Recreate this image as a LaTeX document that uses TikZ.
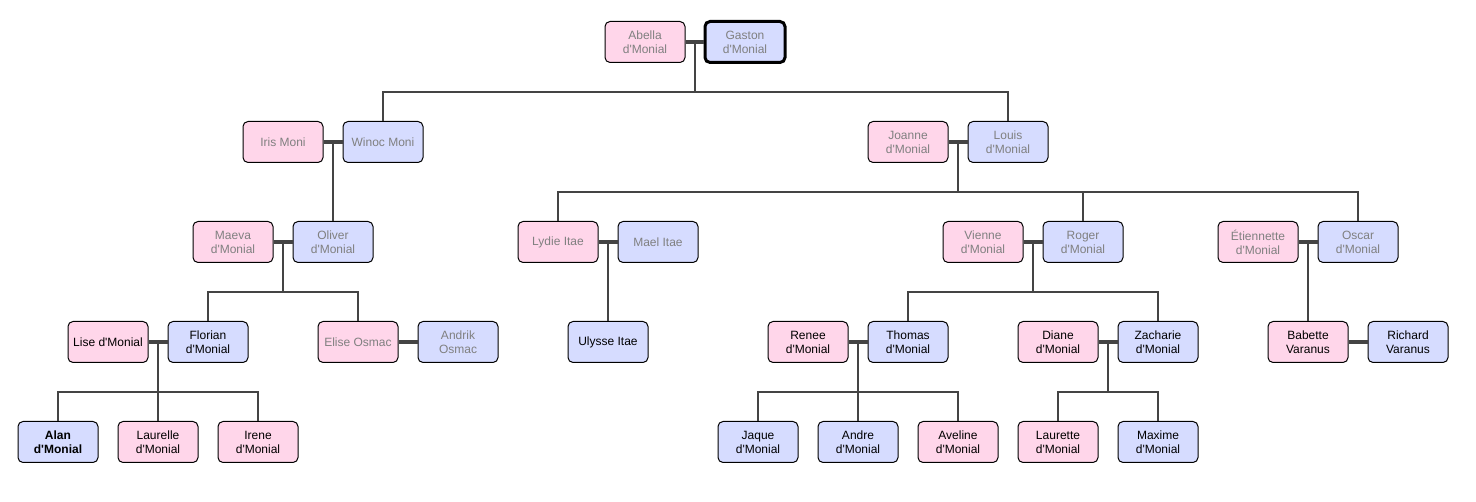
\documentclass[tikz,border=0pt]{standalone}
\usepackage{fontspec}
\setmainfont{Liberation Sans}[Ligatures=TeXOff]
\begin{document}
\begin{tikzpicture}[x=1pt, y=-1pt,
  person/.style={draw=black, line width=1pt, rounded corners=5pt,
    minimum width=80pt, minimum height=41pt, inner sep=0pt, align=center,
    font=\fontsize{12}{14}\selectfont},
  fem/.style={person, fill=pinkfill},
  masc/.style={person, fill=bluefill},
  past/.style={text=oldgray},
  lead/.style={font=\fontsize{12}{14}\selectfont\bfseries},
  couple/.style={draw=linegray, line width=4pt},
  link/.style={draw=linegray, line width=2pt}]
  \definecolor{pinkfill}{RGB}{255,214,234}
  \definecolor{bluefill}{RGB}{214,220,255}
  \definecolor{oldgray}{RGB}{128,128,128}
  \definecolor{linegray}{RGB}{68,68,68}
  \useasboundingbox (0,0) rectangle (1476,502);
  % first generation
  \node[fem,past] (abella) at (645,42) {Abella\\d'Monial};
  \node[masc,past,line width=3pt] (gaston) at (745,42) {Gaston\\d'Monial};
  % second generation
  \node[fem,past] (iris) at (283,142) {Iris Moni};
  \node[masc,past] (winoc) at (383,142) {Winoc Moni};
  \node[fem,past] (joanne) at (908,142) {Joanne\\d'Monial};
  \node[masc,past] (louis) at (1008,142) {Louis\\d'Monial};
  % third generation
  \node[fem,past] (maeva) at (233,242) {Maeva\\d'Monial};
  \node[masc,past] (oliver) at (333,242) {Oliver\\d'Monial};
  \node[fem,past] (lydie) at (558,242) {Lydie Itae};
  \node[masc,past] (mael) at (658,242) {Mael Itae};
  \node[fem,past] (vienne) at (983,242) {Vienne\\d'Monial};
  \node[masc,past] (roger) at (1083,242) {Roger\\d'Monial};
  \node[fem,past] (etiennette) at (1258,242) {Étiennette\\d'Monial};
  \node[masc,past] (oscar) at (1358,242) {Oscar\\d'Monial};
  % fourth generation
  \node[fem] (lise) at (108,342) {Lise d'Monial};
  \node[masc] (florian) at (208,342) {Florian\\d'Monial};
  \node[fem,past] (elise) at (358,342) {Elise Osmac};
  \node[masc,past] (andrik) at (458,342) {Andrik\\Osmac};
  \node[masc] (ulysse) at (608,342) {Ulysse Itae};
  \node[fem] (renee) at (808,342) {Renee\\d'Monial};
  \node[masc] (thomas) at (908,342) {Thomas\\d'Monial};
  \node[fem] (diane) at (1058,342) {Diane\\d'Monial};
  \node[masc] (zacharie) at (1158,342) {Zacharie\\d'Monial};
  \node[fem] (babette) at (1308,342) {Babette\\Varanus};
  \node[masc] (richard) at (1408,342) {Richard\\Varanus};
  % fifth generation
  \node[masc,lead] (alan) at (58,442) {Alan\\d'Monial};
  \node[fem] (laurelle) at (158,442) {Laurelle\\d'Monial};
  \node[fem] (irene) at (258,442) {Irene\\d'Monial};
  \node[masc] (jaque) at (758,442) {Jaque\\d'Monial};
  \node[masc] (andre) at (858,442) {Andre\\d'Monial};
  \node[fem] (aveline) at (958,442) {Aveline\\d'Monial};
  \node[fem] (laurette) at (1058,442) {Laurette\\d'Monial};
  \node[masc] (maxime) at (1158,442) {Maxime\\d'Monial};
  % couples
  \foreach \a/\b in {abella/gaston, iris/winoc, joanne/louis, maeva/oliver,
    lydie/mael, vienne/roger, etiennette/oscar, lise/florian, elise/andrik,
    renee/thomas, diane/zacharie, babette/richard}
    \draw[couple] (\a) -- (\b) coordinate[midway] (\a-\b);
  % children
  \foreach \c in {winoc,louis}
    \draw[link] (abella-gaston) -- ++(0,50) -| (\c.north);
  \draw[link] (iris-winoc) -- (oliver.north);
  \foreach \c in {lydie,roger,oscar}
    \draw[link] (joanne-louis) -- ++(0,50) -| (\c.north);
  \foreach \c in {florian,elise}
    \draw[link] (maeva-oliver) -- ++(0,50) -| (\c.north);
  \draw[link] (lydie-mael) -- (ulysse.north);
  \foreach \c in {thomas,zacharie}
    \draw[link] (vienne-roger) -- ++(0,50) -| (\c.north);
  \draw[link] (etiennette-oscar) -- (babette.north);
  \foreach \c in {alan,laurelle,irene}
    \draw[link] (lise-florian) -- ++(0,50) -| (\c.north);
  \foreach \c in {jaque,andre,aveline}
    \draw[link] (renee-thomas) -- ++(0,50) -| (\c.north);
  \foreach \c in {laurette,maxime}
    \draw[link] (diane-zacharie) -- ++(0,50) -| (\c.north);
\end{tikzpicture}
\end{document}
